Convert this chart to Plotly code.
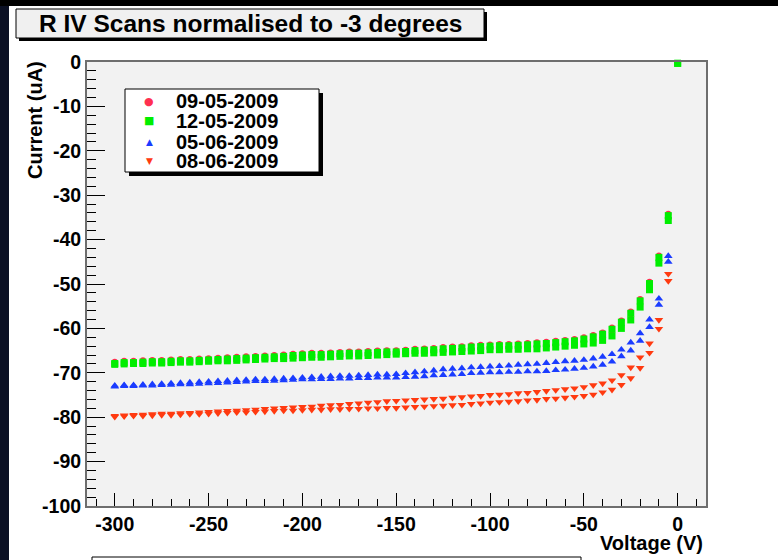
import plotly.graph_objects as go

# ---------------- data ----------------
volts = list(range(-300, 5, 5))  # -300 ... 0

# 09-05-2009 (two readings per voltage)
d0905_a = [-67.5, -67.3, -67.3, -67.2, -67.1, -67.1, -67.0, -66.9, -66.9, -66.8,
           -66.7, -66.6, -66.5, -66.4, -66.3, -66.2, -66.1, -66.0, -65.9, -65.7,
           -65.6, -65.5, -65.5, -65.4, -65.3, -65.2, -65.2, -65.1, -65.0, -64.9,
           -64.9, -64.8, -64.6, -64.5, -64.4, -64.2, -64.1, -64.0, -63.8, -63.7,
           -63.6, -63.5, -63.5, -63.4, -63.3, -63.1, -63.0, -62.8, -62.6, -62.4,
           -62.0, -61.5, -60.9, -59.8, -58.2, -56.2, -53.4, -49.5, -43.6, -34.2, None]
d0905_b = [-67.8, -67.7, -67.6, -67.6, -67.5, -67.5, -67.4, -67.3, -67.3, -67.2,
           -67.1, -67.0, -67.0, -66.9, -66.8, -66.7, -66.6, -66.5, -66.5, -66.4,
           -66.3, -66.2, -66.2, -66.1, -66.0, -65.9, -65.9, -65.8, -65.7, -65.6,
           -65.5, -65.4, -65.3, -65.3, -65.2, -65.1, -65.0, -64.9, -64.8, -64.7,
           -64.5, -64.5, -64.4, -64.4, -64.3, -64.3, -64.1, -63.9, -63.7, -63.5,
           -63.2, -63.0, -62.4, -61.4, -59.7, -57.8, -54.9, -51.0, -45.0, -35.4, None]

# 12-05-2009
d1205_a = [-67.9, -67.7, -67.7, -67.6, -67.5, -67.5, -67.4, -67.3, -67.3, -67.2,
           -67.1, -67.0, -66.9, -66.8, -66.7, -66.6, -66.5, -66.4, -66.3, -66.1,
           -66.0, -65.9, -65.9, -65.8, -65.7, -65.6, -65.6, -65.5, -65.4, -65.3,
           -65.3, -65.2, -65.0, -64.9, -64.8, -64.6, -64.5, -64.4, -64.2, -64.1,
           -64.0, -63.9, -63.9, -63.8, -63.7, -63.5, -63.4, -63.2, -63.0, -62.8,
           -62.4, -61.9, -61.3, -60.2, -58.6, -56.6, -53.8, -49.9, -44.0, -34.6, -0.3]
d1205_b = [-68.1, -68.0, -67.9, -67.9, -67.8, -67.8, -67.7, -67.6, -67.6, -67.5,
           -67.4, -67.3, -67.3, -67.2, -67.1, -67.0, -66.9, -66.8, -66.8, -66.7,
           -66.6, -66.5, -66.5, -66.4, -66.3, -66.2, -66.2, -66.1, -66.0, -65.9,
           -65.8, -65.7, -65.6, -65.6, -65.5, -65.4, -65.3, -65.2, -65.1, -65.0,
           -64.8, -64.8, -64.7, -64.7, -64.6, -64.6, -64.4, -64.2, -64.0, -63.8,
           -63.5, -63.3, -62.7, -61.7, -60.0, -58.1, -55.2, -51.3, -45.3, -35.7, -0.3]

# 05-06-2009
d0506_a = [-72.9, -72.8, -72.8, -72.7, -72.6, -72.5, -72.4, -72.3, -72.2, -72.1,
           -72.0, -71.9, -71.8, -71.7, -71.6, -71.5, -71.5, -71.4, -71.3, -71.2,
           -71.1, -71.0, -70.9, -70.8, -70.7, -70.7, -70.6, -70.5, -70.4, -70.4,
           -70.3, -70.1, -69.9, -69.7, -69.5, -69.2, -69.1, -69.0, -68.8, -68.7,
           -68.6, -68.5, -68.4, -68.2, -68.1, -68.0, -67.8, -67.6, -67.4, -67.3,
           -67.1, -66.8, -66.4, -65.8, -64.8, -63.2, -61.1, -58.0, -53.3, -43.7, None]
d0506_b = [-73.1, -73.0, -73.0, -72.9, -72.9, -72.8, -72.7, -72.6, -72.6, -72.5,
           -72.4, -72.3, -72.2, -72.1, -72.0, -71.9, -71.9, -71.8, -71.7, -71.6,
           -71.5, -71.5, -71.4, -71.4, -71.3, -71.3, -71.2, -71.2, -71.1, -71.1,
           -71.1, -71.0, -70.9, -70.8, -70.6, -70.5, -70.4, -70.3, -70.1, -70.0,
           -69.9, -69.9, -69.8, -69.8, -69.7, -69.7, -69.6, -69.4, -69.3, -69.1,
           -68.9, -68.6, -68.2, -67.5, -66.3, -65.0, -62.8, -59.7, -54.7, -45.0, None]

# 08-06-2009
d0806_a = [-79.7, -79.6, -79.5, -79.4, -79.3, -79.2, -79.2, -79.1, -79.0, -78.9,
           -78.8, -78.7, -78.6, -78.5, -78.4, -78.3, -78.1, -78.0, -77.9, -77.8,
           -77.7, -77.6, -77.4, -77.3, -77.2, -77.0, -76.9, -76.7, -76.6, -76.4,
           -76.3, -76.2, -76.1, -76.0, -75.9, -75.8, -75.6, -75.5, -75.3, -75.2,
           -75.0, -74.9, -74.8, -74.6, -74.5, -74.3, -74.1, -73.9, -73.7, -73.5,
           -73.2, -72.8, -72.4, -71.7, -70.5, -68.8, -66.5, -63.4, -58.1, -47.7, None]
d0806_b = [-79.9, -79.8, -79.7, -79.7, -79.6, -79.5, -79.5, -79.4, -79.3, -79.3,
           -79.2, -79.1, -79.0, -78.9, -78.9, -78.8, -78.7, -78.6, -78.5, -78.5,
           -78.4, -78.3, -78.3, -78.2, -78.2, -78.1, -78.1, -78.0, -78.0, -77.9,
           -77.9, -77.8, -77.7, -77.6, -77.5, -77.4, -77.3, -77.2, -77.0, -76.9,
           -76.7, -76.6, -76.5, -76.4, -76.2, -76.1, -75.9, -75.8, -75.6, -75.4,
           -75.2, -74.9, -74.4, -73.8, -72.7, -71.2, -68.9, -65.5, -60.1, -49.3, None]

legend_labels = ["09-05-2009", "12-05-2009", "05-06-2009", "08-06-2009"]
x_ticks = [-300, -250, -200, -150, -100, -50, 0]
x_ticktext = ["-300", "-250", "-200", "-150", "-100", "-50", "0"]
y_ticks = [-100, -90, -80, -70, -60, -50, -40, -30, -20, -10, 0]
y_ticktext = ["-100", "-90", "-80", "-70", "-60", "-50", "-40", "-30", "-20", "-10", "0"]

title_text = "R IV Scans normalised to -3 degrees"
x_title = "Voltage (V)"
y_title = "Current (uA)"

# ---------------- styling ----------------
W, H = 778, 560
L, R, T, B = 87, 706, 62, 506
FONT = "Liberation Sans"


def px(x):
    return (x - L) / (R - L)


def py(y):
    return (B - y) / (B - T)


styles = [
    dict(symbol="circle", color="#ff3050", size=6),
    dict(symbol="square", color="#00ee00", size=7),
    dict(symbol="triangle-up", color="#1a3cff", size=7.5),
    dict(symbol="triangle-down", color="#ff3a10", size=7.5),
]
series = [(d0905_a, d0905_b), (d1205_a, d1205_b), (d0506_a, d0506_b), (d0806_a, d0806_b)]

fig = go.Figure()
for (sa, sb), st, lab in zip(series, styles, legend_labels):
    for s in (sa, sb):
        fig.add_trace(go.Scatter(
            x=volts, y=s, mode="markers", name=lab, showlegend=False,
            cliponaxis=False,
            marker=dict(symbol=st["symbol"], color=st["color"], size=st["size"],
                        line=dict(width=0)),
        ))

tickfont = dict(family=FONT, size=19.5, color="black", weight="bold")

fig.update_xaxes(
    range=[-314.8, 15.1], tickvals=x_ticks, ticktext=x_ticktext, ticks="inside", ticklen=13,
    tickcolor="black", tickwidth=1, showgrid=False, zeroline=False,
    showline=True, linecolor="#6e6e6e", linewidth=2, mirror=True,
    tickfont=tickfont,
    minor=dict(ticks="inside", ticklen=7, dtick=10, tick0=0, tickcolor="black", tickwidth=1),
)
fig.update_yaxes(
    range=[-100, 0], tickvals=y_ticks, ticktext=y_ticktext, ticks="inside", ticklen=18,
    tickcolor="black", tickwidth=1, showgrid=False, zeroline=False,
    showline=True, linecolor="#6e6e6e", linewidth=2, mirror=True,
    tickfont=tickfont,
    minor=dict(ticks="inside", ticklen=9, dtick=2, tick0=0, tickcolor="black", tickwidth=1),
)

shapes = [
    # dark window edges
    dict(type="rect", xref="paper", yref="paper", x0=px(0), x1=px(9), y0=py(560), y1=py(0),
         fillcolor="#0b1024", line=dict(width=0), layer="above"),
    dict(type="rect", xref="paper", yref="paper", x0=px(0), x1=px(778), y0=py(6), y1=py(0),
         fillcolor="black", line=dict(width=0), layer="above"),
    # title box + shadow
    dict(type="rect", xref="paper", yref="paper", x0=px(19), x1=px(487), y0=py(41), y1=py(12),
         fillcolor="black", line=dict(width=0), layer="above"),
    dict(type="rect", xref="paper", yref="paper", x0=px(16), x1=px(484), y0=py(38), y1=py(9),
         fillcolor="#f0f0f0", line=dict(color="black", width=1), layer="above"),
    # legend box + shadow
    dict(type="rect", xref="paper", yref="paper", x0=px(129), x1=px(323), y0=py(176), y1=py(93),
         fillcolor="black", line=dict(width=0), layer="above"),
    dict(type="rect", xref="paper", yref="paper", x0=px(125), x1=px(319), y0=py(172), y1=py(89),
         fillcolor="white", line=dict(color="black", width=1), layer="above"),
    # box cut off at the bottom
    dict(type="rect", xref="paper", yref="paper", x0=px(92), x1=px(581), y0=py(600), y1=py(557),
         fillcolor="rgba(0,0,0,0)", line=dict(color="black", width=1), layer="above"),
]

annotations = [
    dict(text=title_text, x=px(250), y=py(24), xref="paper", yref="paper",
         showarrow=False, xanchor="center", yanchor="middle",
         font=dict(family=FONT, size=24.5, color="black", weight="bold")),
    dict(text=y_title, x=px(35), y=py(120), xref="paper", yref="paper",
         showarrow=False, xanchor="center", yanchor="middle", textangle=-90,
         font=dict(family=FONT, size=20, color="black", weight="bold")),
    dict(text=x_title, x=px(705), y=py(543), xref="paper", yref="paper",
         showarrow=False, xanchor="right", yanchor="middle",
         font=dict(family=FONT, size=20, color="black", weight="bold")),
]

glyphs = ["\u25cf", "\u25a0", "\u25b2", "\u25bc"]
glyph_sizes = [11, 11, 9, 9]
rows = [101, 121, 142, 161]
for lab, st, g, gs, ry in zip(legend_labels, styles, glyphs, glyph_sizes, rows):
    annotations.append(dict(text=g, x=px(149), y=py(ry), xref="paper", yref="paper",
                            showarrow=False, xanchor="center", yanchor="middle",
                            font=dict(family="DejaVu Sans", size=gs, color=st["color"])))
    annotations.append(dict(text=lab, x=px(174), y=py(ry), xref="paper", yref="paper",
                            showarrow=False, xanchor="left", yanchor="middle",
                            font=dict(family=FONT, size=20, color="black", weight="bold")))

fig.update_layout(
    width=W, height=H,
    margin=dict(l=L, r=W - R, t=T, b=H - B, pad=0),
    paper_bgcolor="white", plot_bgcolor="#f2f2f2",
    showlegend=False,
    shapes=shapes, annotations=annotations,
)

fig.write_html("out.html")
